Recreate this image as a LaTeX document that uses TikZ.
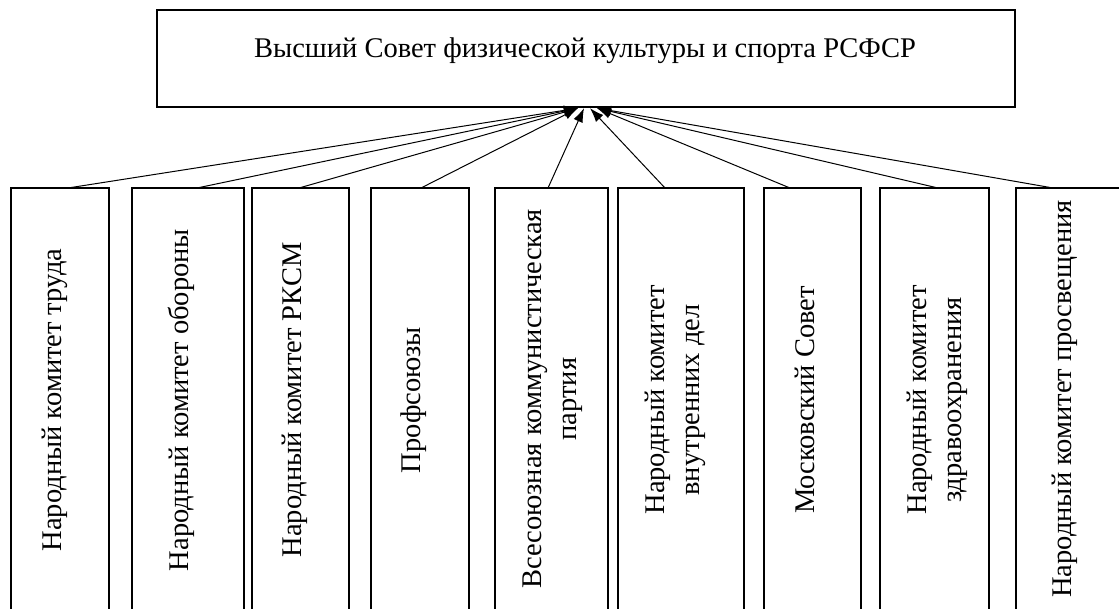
\documentclass[tikz,border=0pt]{standalone}
\usepackage{fontspec}
\setmainfont{Liberation Serif}
\usetikzlibrary{arrows.meta,calc}
\tikzset{
  frame/.style={draw=black, line width=2pt, inner sep=0pt, fill=none},
  topframe/.style={draw=black, line width=2.4pt, inner sep=0pt},
  lbl/.style={rotate=90, align=center, inner sep=0pt, font=\fontsize{28.5}{35}\selectfont},
  toplbl/.style={inner sep=0pt, anchor=base, font=\fontsize{28.5}{35}\selectfont},
  conn/.style={draw=black, line width=1pt, -{Latex[length=14pt,width=10pt]}}
}
\begin{document}
\begin{tikzpicture}[x=1pt,y=-1pt]
\useasboundingbox (0,0) rectangle (1119,609);
\clip (0,0) rectangle (1119,609);
% top box
\node[topframe, minimum width=858pt, minimum height=97pt] (top) at (586,58.5) {};
\node[toplbl] (toptext) at (585,58) {Высший Совет физической культуры и спорта РСФСР};
% bottom boxes
\node[frame, minimum width=97.5pt, minimum height=460pt] (b1) at (59.75,418) {};
\node[frame, minimum width=111.5pt, minimum height=460pt] (b2) at (187.75,418) {};
\node[frame, minimum width=97pt, minimum height=460pt] (b3) at (300.5,418) {};
\node[frame, minimum width=98pt, minimum height=460pt] (b4) at (420,418) {};
\node[frame, minimum width=112.5pt, minimum height=460pt] (b5) at (551.25,418) {};
\node[frame, minimum width=126pt, minimum height=460pt] (b6) at (681,418) {};
\node[frame, minimum width=96.5pt, minimum height=460pt] (b7) at (812.25,418) {};
\node[frame, minimum width=108.5pt, minimum height=460pt] (b8) at (934.25,418) {};
\node[frame, minimum width=106pt, minimum height=460pt] (b9) at (1069,418) {};
% texts
\node[lbl] (t1) at (55,400) {Народный комитет труда};
\node[lbl] (t2) at (181.5,400) {Народный комитет обороны};
\node[lbl] (t3) at (295,400) {Народный комитет РКСМ};
\node[lbl] (t4) at (413.5,400) {Профсоюзы};
\node[lbl] (t5) at (552.5,399) {Всесоюзная коммунистическая\\партия};
\node[lbl] (t6) at (675.5,400) {Народный комитет\\внутренних дел};
\node[lbl] (t7) at (805,400) {Московский Совет};
\node[lbl] (t8) at (937.5,400) {Народный комитет\\здравоохранения};
\node[lbl] (t9) at (1065,399) {Народный комитет просвещения};
% attachment points
\coordinate (s1) at (68,188);
\coordinate (s2) at (197,188);
\coordinate (s3) at (299,188);
\coordinate (s4) at (421,188);
\coordinate (s5) at (548,188);
\coordinate (s6) at (665,188);
\coordinate (s7) at (790,188);
\coordinate (s8) at (938,188);
\coordinate (s9) at (1053,188);
\coordinate (eL) at ($(top.south)+(-8,0)$);
\coordinate (eM) at ($(top.south)+(-2,0)$);
\coordinate (eN) at ($(top.south)+(4,0)$);
\coordinate (eR) at ($(top.south)+(11,0)$);
% connectors
\draw[conn] (s1) -- (eL);
\draw[conn] (s2) -- (eL);
\draw[conn] (s3) -- (eL);
\draw[conn] (s4) -- (eL);
\draw[conn] (s5) -- (eM);
\draw[conn] (s6) -- (eN);
\draw[conn] (s7) -- (eR);
\draw[conn] (s8) -- (eR);
\draw[conn] (s9) -- (eR);
\end{tikzpicture}
\end{document}
